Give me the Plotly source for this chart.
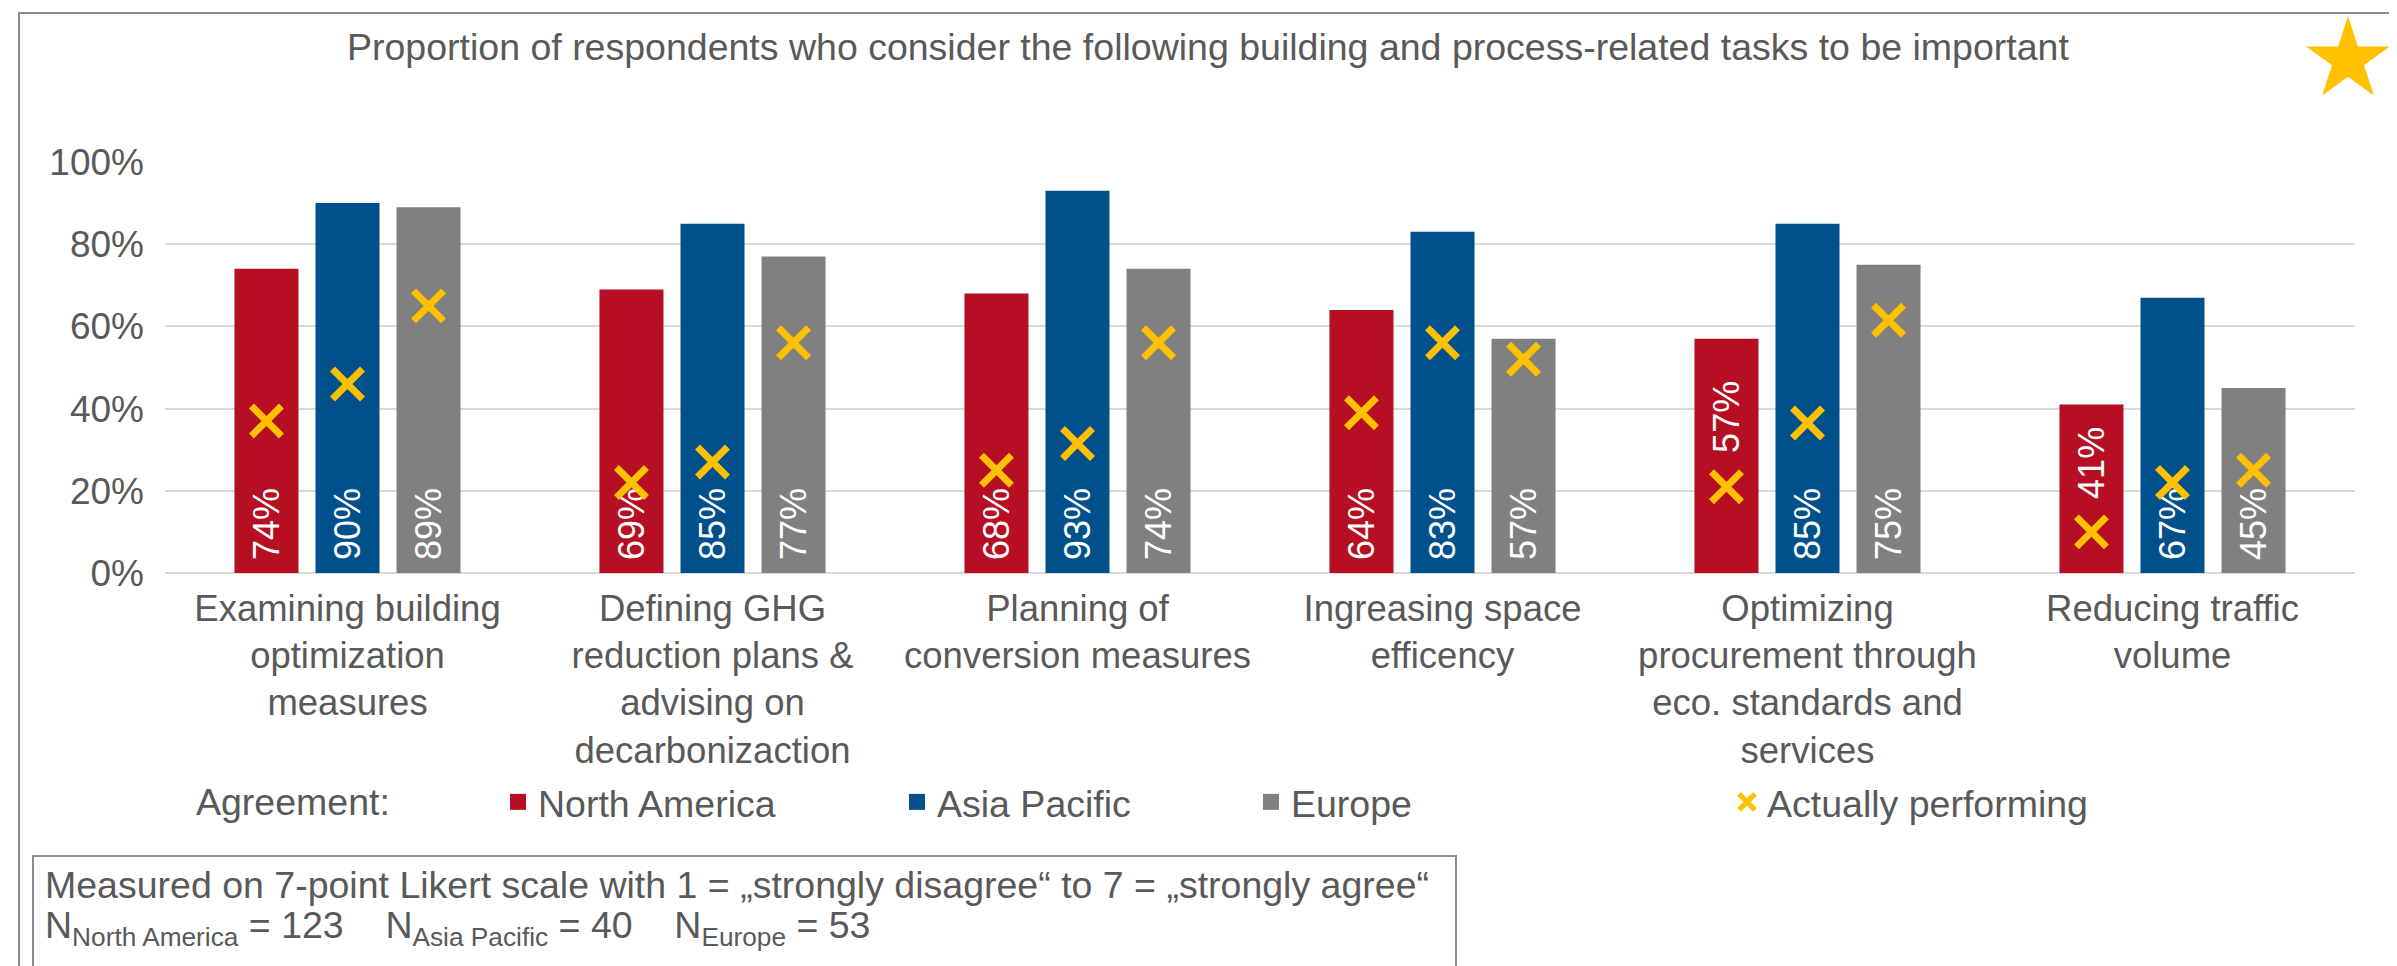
import numpy as np
import plotly.graph_objects as go

# category labels (x axis)
categories = [
    "Examining building<br>optimization<br>measures",
    "Defining GHG<br>reduction plans &<br>advising on<br>decarbonizaction",
    "Planning of<br>conversion measures",
    "Ingreasing space<br>efficency",
    "Optimizing<br>procurement through<br>eco. standards and<br>services",
    "Reducing traffic<br>volume",
]
regions = ["North America", "Asia Pacific", "Europe"]

# agreement (%)
north_america = [74, 69, 68, 64, 57, 41]
asia_pacific = [90, 85, 93, 83, 85, 67]
europe = [89, 77, 74, 57, 75, 45]

# actually performing (%)
perform_na = [37, 22, 25, 39, 21, 10]
perform_ap = [46, 27, 31.5, 56, 36.5, 22]
perform_eu = [65, 56, 56, 52, 61.5, 25]

y_ticks = [0, 20, 40, 60, 80, 100]
y_ticktext = ["0%", "20%", "40%", "60%", "80%", "100%"]

# bar labels that sit higher in the bar (series index, category index) -> y
moved_labels = {(0, 4): 38.1, (0, 5): 26.9}

COLORS = ["#B60E23", "#00508C", "#808080"]
YELLOW = "#FFC000"
TXT = "#595959"
FONT = "Liberation Sans, Arial, sans-serif"
FS = 37.5

W, H = 2397, 966
L, R, T, B = 157, 50, 154, 401
BARGAP = 0.334


def px_x(px):
    return (px - L) / (W - L - R)


def px_y(py):
    return (H - B - py) / (H - T - B)


x_idx = np.arange(len(categories))
offsets = np.array([-1, 0, 1]) * (1 - BARGAP) / 3

agree = [north_america, asia_pacific, europe]
perform = [perform_na, perform_ap, perform_eu]
legend_ids = ["legend", "legend2", "legend3"]

fig = go.Figure()

for k, (name, vals) in enumerate(zip(regions, agree)):
    text = ["\u00a0" + f"{v}%" for v in vals]
    pos = ["none" if (k, i) in moved_labels else "inside" for i in range(len(vals))]
    fig.add_trace(go.Bar(
        x=x_idx, y=vals, name=name, marker=dict(color=COLORS[k], line=dict(width=0)),
        text=text, textposition=pos, insidetextanchor="start", textangle=-90,
        textfont=dict(color="white", size=36, family=FONT),
        showlegend=False, hoverinfo="skip",
    ))
    # legend swatch
    fig.add_trace(go.Scatter(
        x=[None], y=[None], mode="markers", name=name, legend=legend_ids[k],
        marker=dict(symbol="square", size=16, color=COLORS[k]),
    ))

for k, vals in enumerate(perform):
    fig.add_trace(go.Scatter(
        x=x_idx + offsets[k], y=vals, mode="markers", name="Actually performing",
        legend="legend4", legendgroup="perf", showlegend=(k == 0),
        marker=dict(symbol="x-thin", size=30, color=YELLOW, line=dict(color=YELLOW, width=7)),
        hoverinfo="skip",
    ))

annotations = []
for (k, i), yv in moved_labels.items():
    annotations.append(dict(
        x=x_idx[i] + offsets[k], y=yv, xref="x", yref="y", text=f"{agree[k][i]}%",
        textangle=-90, showarrow=False, font=dict(color="white", size=36, family=FONT),
    ))

annotations += [
    dict(x=px_x(1200), y=px_y(39), xref="paper", yref="paper", xanchor="center", yanchor="middle",
         text="Proportion of respondents who consider the following building and process-related tasks to be important",
         showarrow=False, font=dict(size=FS, color=TXT, family=FONT)),
    dict(x=px_x(186), y=px_y(794), xref="paper", yref="paper", xanchor="left", yanchor="middle",
         text="Agreement:", showarrow=False, font=dict(size=FS, color=TXT, family=FONT)),
    dict(x=px_x(35), y=px_y(877), xref="paper", yref="paper", xanchor="left", yanchor="middle",
         text="Measured on 7-point Likert scale with 1 = \u201estrongly disagree\u201c to 7 = \u201estrongly agree\u201c",
         showarrow=False, font=dict(size=FS, color=TXT, family=FONT)),
    dict(x=px_x(35), y=px_y(920), xref="paper", yref="paper", xanchor="left", yanchor="middle",
         text="N<sub>North America</sub> = 123\u00a0\u00a0\u00a0\u00a0N<sub>Asia Pacific</sub> = 40"
              "\u00a0\u00a0\u00a0\u00a0N<sub>Europe</sub> = 53",
         showarrow=False, font=dict(size=FS, color=TXT, family=FONT)),
]

# star in the top right corner
cx, cy, r_out = 2340, 52, 44
r_in = r_out * 0.382
pts = []
for j in range(10):
    rad = r_out if j % 2 == 0 else r_in
    ang = np.deg2rad(-90 + 36 * j)
    pts.append(f"{px_x(cx + rad * np.cos(ang)):.5f},{px_y(cy + rad * np.sin(ang)):.5f}")
star_path = "M" + " L".join(pts) + " Z"

shapes = [
    dict(type="rect", xref="paper", yref="paper", x0=px_x(11), x1=px_x(2386), y0=px_y(980), y1=px_y(5),
         line=dict(color="#8C8C8C", width=2), fillcolor="rgba(0,0,0,0)", layer="below"),
    dict(type="rect", xref="paper", yref="paper", x0=px_x(25), x1=px_x(1448), y0=px_y(959), y1=px_y(848),
         line=dict(color="#8C8C8C", width=2), fillcolor="rgba(0,0,0,0)"),
    dict(type="path", xref="paper", yref="paper", path=star_path, fillcolor=YELLOW, line=dict(width=0)),
]

legend_style = dict(orientation="h", yanchor="middle", xanchor="left", y=px_y(794),
                    font=dict(size=FS, color=TXT, family=FONT), bgcolor="rgba(0,0,0,0)", borderwidth=0)

fig.update_layout(
    width=W, height=H,
    margin=dict(l=L, r=R, t=T, b=B, autoexpand=False),
    paper_bgcolor="white", plot_bgcolor="white",
    barmode="group", bargap=BARGAP, bargroupgap=0.21,
    font=dict(family=FONT, size=FS, color=TXT),
    annotations=annotations, shapes=shapes,
    legend=dict(x=px_x(490), **legend_style),
    legend2=dict(x=px_x(889), **legend_style),
    legend3=dict(x=px_x(1243), **legend_style),
    legend4=dict(x=px_x(1719), **legend_style),
    hovermode=False,
)
fig.update_xaxes(
    range=[-0.5, len(categories) - 0.5], tickvals=x_idx, ticktext=categories,
    showgrid=False, zeroline=False, showline=False, ticks="",
    tickfont=dict(size=36.5, color=TXT, family=FONT), ticklabelstandoff=10,
)
fig.update_yaxes(
    range=[0, 100], tickvals=y_ticks, ticktext=y_ticktext,
    showgrid=True, gridcolor="#D9D9D9", gridwidth=2,
    zeroline=True, zerolinecolor="#D9D9D9", zerolinewidth=2, showline=False, ticks="",
    tickfont=dict(size=37, color=TXT, family=FONT), ticklabelstandoff=20,
)

fig.write_html("out.html")
